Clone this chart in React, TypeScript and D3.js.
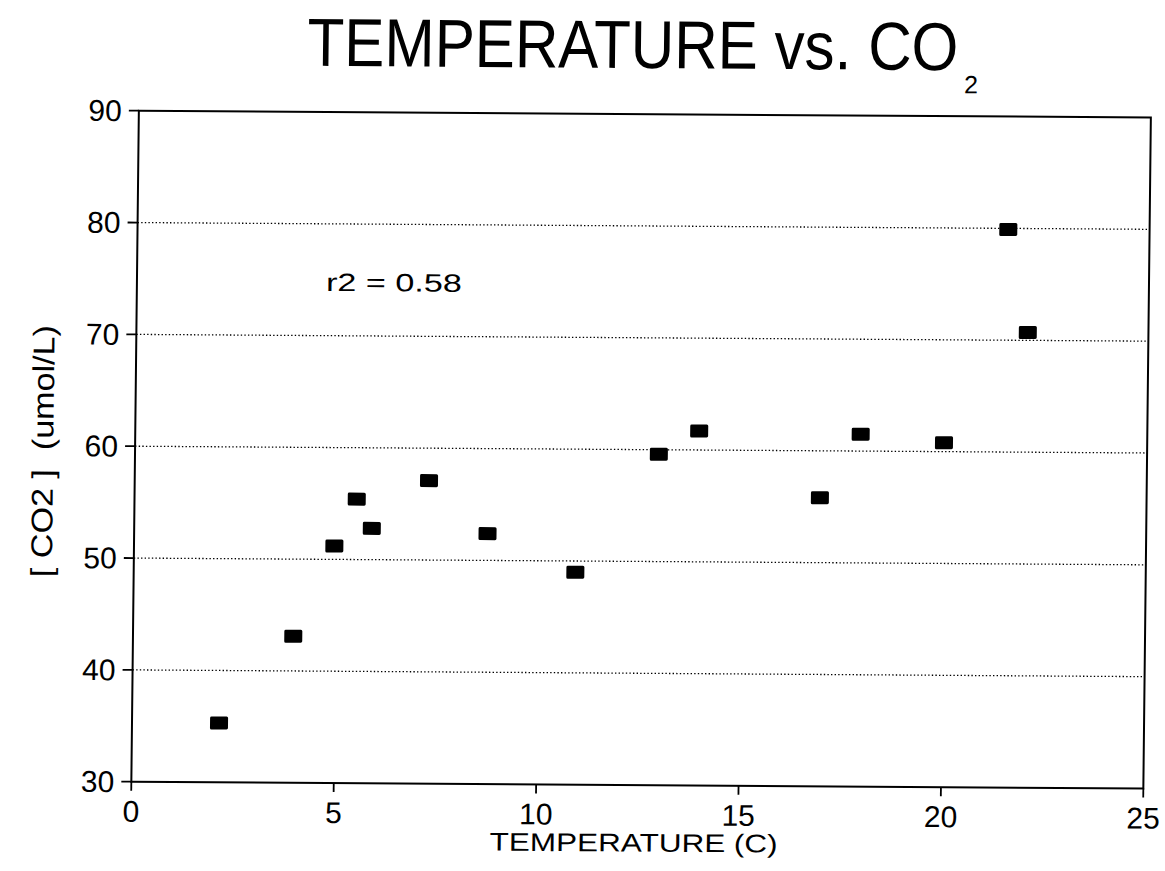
import React from 'react';
import * as d3 from 'd3';

// ---- data ----
const temperature = [2.15, 3.96, 4.95, 5.49, 5.87, 7.27, 8.73, 10.91, 12.94, 13.93, 16.93, 17.92, 19.98, 21.51, 22.02];
const co2 = [35.3, 43.1, 51.2, 55.4, 52.8, 57.1, 52.4, 49.0, 59.6, 61.7, 55.8, 61.5, 60.8, 79.9, 70.7];
const xTicks = [0, 5, 10, 15, 20, 25];
const yTicks = [30, 40, 50, 60, 70, 80, 90];
const gridValues = [40, 50, 60, 70, 80];
const titleMain = 'TEMPERATURE vs. CO';
const titleSub = '2';
const xTitle = 'TEMPERATURE (C)';
const yTitle = '[ CO2 ]  (umol/L)';
const annotation = 'r2 = 0.58';
const annotationAt = { x: 4.67, y: 74.0 };

const W = 1165;
const H = 871;
const L = 135, R = 1147, T = 114, B = 785;
const FONT = '"Liberation Sans", Arial, Helvetica, sans-serif';

export default function App() {
  const x = d3.scaleLinear().domain([0, 25]).range([L, R]);
  const y = d3.scaleLinear().domain([30, 90]).range([B, T]);
  const points = temperature.map((t, i) => ({ t, c: co2[i] }));
  const mw = 18, mh = 13;

  return (
    <svg width={W} height={H} style={{ position: 'absolute', left: 0, top: 0, background: '#fff' }}
      fontFamily={FONT}>
      <rect x={0} y={0} width={W} height={H} fill="#fff" />
      <g transform="matrix(1,0.0067,-0.0112,1,5.13,-4.19)">
        {/* title */}
        <text transform="translate(303,68) scale(0.885,1)" x={0} y={0} fontSize={68} fill="#000">{titleMain}</text>
        <text x={960} y={91} fontSize={25} fill="#000">{titleSub}</text>

        {/* gridlines */}
        {gridValues.map(v => (
          <line key={'g' + v} x1={L} x2={R} y1={y(v)} y2={y(v)} stroke="#000" strokeWidth={1.3} strokeDasharray="1.4,2.2" />
        ))}

        {/* frame */}
        <rect x={L} y={T} width={R - L} height={B - T} fill="none" stroke="#000" strokeWidth={2} />

        {/* y ticks */}
        {yTicks.map(v => (
          <g key={'y' + v}>
            <line x1={L - 10} x2={L} y1={y(v)} y2={y(v)} stroke="#000" strokeWidth={1.8} />
            <text x={L - 17} y={y(v) + 10.5} fontSize={30} textAnchor="end" fill="#000">{v}</text>
          </g>
        ))}

        {/* x ticks */}
        {xTicks.map(v => (
          <g key={'x' + v}>
            <line x1={x(v)} x2={x(v)} y1={B} y2={B + 9} stroke="#000" strokeWidth={1.8} />
            <text x={x(v)} y={B + 40} fontSize={30} textAnchor="middle" fill="#000">{v}</text>
          </g>
        ))}

        {/* axis titles */}
        <text x={638} y={851.5} fontSize={25.5} textAnchor="middle" textLength={288} lengthAdjust="spacingAndGlyphs" fill="#000">{xTitle}</text>
        <text transform={`translate(53.2,455) rotate(-90)`} x={0} y={0} fontSize={30} textAnchor="middle" textLength={252} lengthAdjust="spacingAndGlyphs" fill="#000" style={{ whiteSpace: 'pre' }}>{yTitle}</text>

        {/* annotation */}
        <text x={x(annotationAt.x)} y={y(annotationAt.y)} fontSize={25} textLength={136} lengthAdjust="spacingAndGlyphs" fill="#000" style={{ whiteSpace: 'pre' }}>{annotation}</text>

        {/* markers */}
        {points.map((p, i) => (
          <rect key={'p' + i} x={x(p.t) - mw / 2} y={y(p.c) - mh / 2} width={mw} height={mh} rx={1.5} fill="#000" />
        ))}
      </g>
    </svg>
  );
}
